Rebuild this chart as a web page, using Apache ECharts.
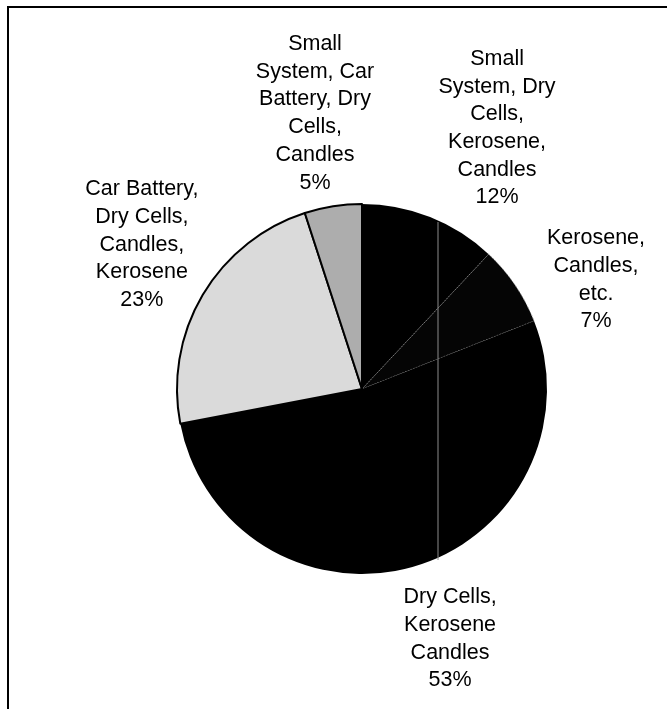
<!DOCTYPE html>
<html>
<head>
<meta charset="utf-8">
<script src="https://cdn.jsdelivr.net/npm/echarts@6/dist/echarts.min.js"></script>
<style>
  html, body { margin: 0; padding: 0; background: #fff; }
  #chart { width: 667px; height: 709px; }
</style>
</head>
<body>
<div id="chart"></div>
<script>
// slice names, as wrapped in the original labels (clockwise from 12 o'clock)
const categories = [
  'Small\nSystem, Dry\nCells,\nKerosene,\nCandles',
  'Kerosene,\nCandles,\netc.',
  'Dry Cells,\nKerosene\nCandles',
  'Car Battery,\nDry Cells,\nCandles,\nKerosene',
  'Small\nSystem, Car\nBattery, Dry\nCells,\nCandles'
]
// share of households, %
const shares = [12, 7, 53, 23, 5]

// pie geometry
const cx = 362
const cy = 389
const R = 185

// where each label box centre sits, in pie radii from the centre
const labelOffsets = [
  [0.73, -1.41],
  [1.265, -0.59],
  [0.476, 1.35],
  [-1.19, -0.78],
  [-0.254, -1.49]
]

// slice fills (scan greys)
const sliceStyles = [
  { color: '#000000', borderColor: '#000', borderWidth: 0 },
  { color: '#050505', borderColor: '#8a8a8a', borderWidth: 1, borderType: [1, 2] },
  { color: '#000000', borderColor: '#000', borderWidth: 0 },
  { color: '#dadada', borderColor: '#000', borderWidth: 2 },
  { color: '#adadad', borderColor: '#000', borderWidth: 2 }
]

const chart = echarts.init(document.getElementById('chart'), null, { renderer: 'canvas' })

const option = {
  backgroundColor: '#fff',
  animation: false,
  graphic: [
    // frame (open to the right and bottom, as cropped)
    {
      type: 'rect',
      shape: { x: 8, y: 7, width: 720, height: 760 },
      style: { fill: null, stroke: '#000', lineWidth: 2 },
      z: 100
    },
    // scanner streak through the pie
    {
      type: 'line',
      shape: { x1: 438, y1: 222, x2: 438, y2: 560 },
      style: { stroke: '#8c8c8c', lineWidth: 1 },
      z: 100
    }
  ],
  series: [
    {
      type: 'pie',
      center: [cx, cy],
      radius: R,
      startAngle: 90,
      clockwise: true,
      avoidLabelOverlap: false,
      emphasis: { disabled: true },
      data: categories.map((name, i) => ({
        name: name,
        value: shares[i],
        itemStyle: sliceStyles[i]
      })),
      label: {
        show: true,
        position: 'outside',
        formatter: '{b}\n{c}%',
        fontFamily: '"Liberation Sans", Arial, sans-serif',
        fontSize: 21.5,
        lineHeight: 27.7,
        color: '#000',
        align: 'center'
      },
      labelLine: { show: false },
      labelLayout: params => {
        const off = labelOffsets[params.dataIndex]
        return {
          x: cx + off[0] * R,
          y: cy + off[1] * R,
          align: 'center',
          verticalAlign: 'middle'
        }
      }
    }
  ]
}

chart.setOption(option)
</script>
</body>
</html>
